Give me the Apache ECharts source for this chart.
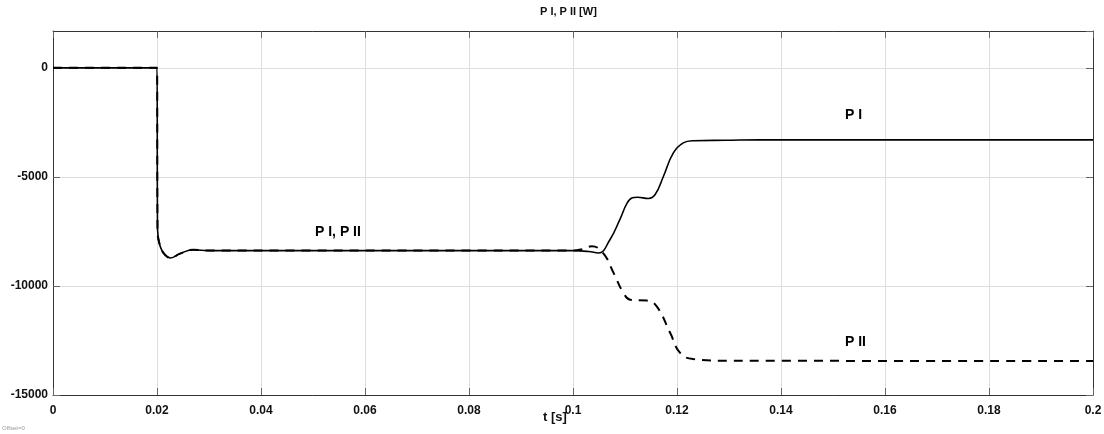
<!DOCTYPE html>
<html>
<head>
<meta charset="utf-8">
<script src="https://cdn.jsdelivr.net/npm/echarts@6/dist/echarts.min.js"></script>
<style>
  html, body { margin: 0; padding: 0; background: #fff; }
  #chart { width: 1104px; height: 434px; }
</style>
</head>
<body>
<div id="chart"></div>
<script>
// time samples [s] and power [W]
const timeP1 = [0, 0.02, 0.0201, 0.0206, 0.0215, 0.0226, 0.0244, 0.027, 0.03, 0.05, 0.08, 0.1, 0.103, 0.1049,
  0.1071, 0.109, 0.1104, 0.1114, 0.1124, 0.1145, 0.1158, 0.1174, 0.1193, 0.1212, 0.1231, 0.1295, 0.136, 0.2];
const powerP1 = [0, 0, -7400, -8180, -8560, -8716, -8520, -8340, -8380, -8380, -8380, -8380, -8420, -8490,
  -7880, -6960, -6200, -5960, -5930, -5990, -5810, -4970, -3900, -3440, -3340, -3320, -3300, -3300];

const timeP2 = [0, 0.02, 0.0201, 0.0206, 0.0215, 0.0226, 0.0244, 0.027, 0.03, 0.05, 0.08, 0.1, 0.102, 0.1036,
  0.1058, 0.1078, 0.1097, 0.111, 0.1142, 0.1161, 0.1187, 0.1206, 0.1231, 0.1302, 0.2];
const powerP2 = [0, 0, -7400, -8180, -8560, -8716, -8520, -8340, -8380, -8380, -8380, -8380, -8300, -8180,
  -8490, -9400, -10320, -10630, -10670, -10940, -12160, -13070, -13350, -13430, -13440];

const titleText = 'P I, P II [W]';
const xName = 't [s]';
const curveLabels = ['P I, P II', 'P I', 'P II'];

const zip = (xs, ys) => xs.map((x, i) => [x, ys[i]]);

const chart = echarts.init(document.getElementById('chart'));

const labelFont = { color: '#111', fontWeight: 'bold', fontSize: 12, fontFamily: 'Liberation Sans, Arial, sans-serif' };
const frameLine = { show: true, onZero: false, lineStyle: { color: '#333', width: 1 } };
const tickStyle = { inside: true, length: 7, lineStyle: { color: '#666', width: 1 } };
const gridLine = { show: true, lineStyle: { color: '#dedede', width: 1 } };

chart.setOption({
  animation: false,
  backgroundColor: '#fff',
  title: {
    text: titleText,
    left: 535,
    top: 1,
    textStyle: { fontSize: 11, fontWeight: 'bold', color: '#111', fontFamily: 'Liberation Sans, Arial, sans-serif' }
  },
  grid: { left: 53, right: 11, top: 31, bottom: 39, containLabel: false, outerBoundsMode: 'none' },
  xAxis: [{
    type: 'value', min: 0, max: 0.2, interval: 0.02,
    axisLine: frameLine,
    axisTick: tickStyle,
    splitLine: gridLine,
    axisLabel: { ...labelFont, margin: 10, formatter: v => String(+v.toFixed(2)) }
  }, {
    type: 'value', min: 0, max: 0.2, interval: 0.02, position: 'top',
    axisLine: frameLine, axisTick: tickStyle, axisLabel: { show: false }, splitLine: { show: false }
  }],
  yAxis: [{
    type: 'value', min: -15000, max: 1690, interval: 5000,
    axisLine: frameLine,
    axisTick: tickStyle,
    splitLine: gridLine,
    axisLabel: { ...labelFont, margin: 5, showMaxLabel: false, formatter: v => String(v) }
  }, {
    type: 'value', min: -15000, max: 1690, interval: 5000, position: 'right',
    axisLine: frameLine,
    axisTick: tickStyle,
    axisLabel: { show: false }, splitLine: { show: false }
  }],
  series: [{
    name: 'P I', type: 'line', data: zip(timeP1, powerP1),
    showSymbol: false, smooth: 0.45,
    lineStyle: { color: '#000', width: 1.6 }, z: 3
  }, {
    name: 'P II', type: 'line', data: zip(timeP2, powerP2),
    showSymbol: false, smooth: 0.45,
    lineStyle: { color: '#000', width: 2, type: [9, 7] }, z: 4
  }],
  graphic: [
    { type: 'text', left: 543, top: 411, style: { text: xName, font: 'bold 13px Liberation Sans, Arial', fill: '#111' } },
    { type: 'text', left: 315, top: 225, style: { text: curveLabels[0], font: 'bold 14px Liberation Sans, Arial', fill: '#000' } },
    { type: 'text', left: 845, top: 108, style: { text: curveLabels[1], font: 'bold 14px Liberation Sans, Arial', fill: '#000' } },
    { type: 'text', left: 845, top: 335, style: { text: curveLabels[2], font: 'bold 14px Liberation Sans, Arial', fill: '#000' } },
    { type: 'text', left: 2, top: 425, style: { text: 'Offset=0', font: '6px Liberation Sans, Arial', fill: '#999' } }
  ]
});
</script>
</body>
</html>
